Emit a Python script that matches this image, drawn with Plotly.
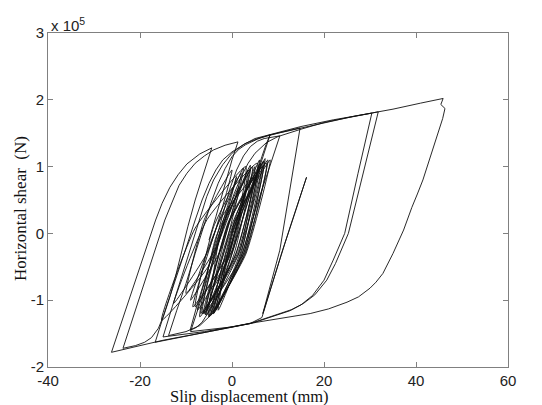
import plotly.graph_objects as go

# ---- data (x: slip displacement in mm, y: horizontal shear in units of 1e5 N) ----
# dense small cycles around the origin
dense_x = [0, 3.0, 0.2, -4.0, -0.4, 5.0, 0.8, -5.5, -0.7, 6.5, 1.3, -6.5,
           -2.3, 4.0, -0.8, -8.0, -4.0, 2.0, -2.4, -9.0, -2.4, 7.5, 2.7, -4.5,
           0.6, 8.3, 3.0, -5.0, -2.6, 1.0, -3.4, -10.0, -6.0, 0.0, -5.1, -12.7,
           -5.4, 5.5, 2.1, -3.0, 0.6, 6.0, 0.8, -7.0, -3.6, 1.5, -5.2, -15.3,
           -8.0, 3.0, -0.6, -6.0, -0.8, 7.0, 2.6, -4.0]
dense_y = [0, 0.60, -0.24, -0.80, 0.19, 0.85, -0.32, -1.10, 0.16, 1.00, -0.32, -1.20,
           0.09, 0.95, -0.28, -1.10, 0.10, 0.90, -0.24, -1.00, 0.23, 1.05, -0.31, -1.22,
           0.17, 1.10, -0.31, -1.25, 0.01, 0.85, -0.20, -0.90, 0.21, 0.95, -0.25, -1.05,
           0.21, 1.05, -0.27, -1.15, 0.20, 1.10, -0.31, -1.25, -0.08, 0.70, -0.50, -1.30,
           0.08, 1.00, -0.32, -1.20, 0.17, 1.08, -0.29, -1.20]

# second group of dense narrow cycles
dense2_x = [0.2, 5.0, 1.8, -5.5, -0.5, 6.2, 2.2, -3.5, 1.0, 7.2, 2.5, -6.2,
            -1.5, 3.5, 0.0, -7.5, -2.5, 4.5, 0.5, -5.0, 0.5, 6.8, 2.5, -4.2,
            0.8, 5.8, 1.2, -6.8, -1.8, 4.0, -0.5, -8.5, -3.2, 2.5, -1.5, -5.8,
            0.2, 7.8, 3.0, -4.0]
dense2_y = [0.00, 1.00, -0.25, -1.22, 0.05, 1.05, -0.22, -1.15, 0.10, 1.12, -0.30, -1.20,
            0.00, 0.95, -0.25, -1.15, 0.05, 1.00, -0.30, -1.25, 0.10, 1.08, -0.25, -1.18,
            0.05, 0.95, -0.30, -1.20, 0.10, 1.02, -0.28, -1.10, 0.12, 0.98, -0.22, -1.22,
            0.12, 1.10, -0.28, -1.20]

# medium cycles reaching the upper / lower envelopes
medium_x = [-4.0, -1.5, 0.5, 2.5, 4.0, 5.3, 6.5, 7.4, 8.3,
            6.5, 4.0, 2.0, 0.0, -2.0, -4.0, -5.3, -6.5, -7.8, -9.1,
            -7.5, -5.5, -3.7, -2.0, -0.5, 1.0, 2.5, 4.0, 5.5, 7.0, 10.4,
            8.2, 6.0, 4.0, 2.0, -0.5, -3.0, -5.0, -7.0, -10.0, -13.8,
            -12.0, -10.0, -8.0, -6.0, -4.5, -3.0, -1.5, 0.0, 1.5, 3.0, 5.5, 8.0, 11.0, 14.8,
            10.4, 8.5, 6.7,
            11.5, 16.2, 11.0, 6.5, 3.9,
            -5.0, -10.0, -16.7,
            -14.5, -12.0, -10.0, -8.0, -6.5, -5.0, -3.5, -2.0, 0.0, 3.0, 6.0, 10.0, 15.0, 20.0, 25.0, 31.8,
            28.5, 25.3, 22.5, 20.6, 18.0, 15.5, 13.0, 10.4, 3.9, -6.0, -15.0,
            -13.0, -11.0, -9.0, -7.0, -5.5, -4.0, -2.0, 0.0, 2.5, 5.0, 10.0, 15.0, 22.0, 30.4,
            27.4, 24.5, 22.0, 20.0, 17.5, 15.0, 12.5, 10.0, 5.0, 0.0, -9.0]
medium_y = [-1.20, -0.65, -0.20, 0.25, 0.60, 0.90, 1.15, 1.33, 1.48,
            1.10, 0.60, 0.15, -0.30, -0.70, -1.00, -1.20, -1.33, -1.41, -1.45,
            -1.05, -0.60, -0.15, 0.30, 0.66, 0.95, 1.16, 1.30, 1.38, 1.42, 1.46,
            1.00, 0.55, 0.10, -0.35, -0.75, -1.05, -1.25, -1.38, -1.47, -1.53,
            -1.15, -0.75, -0.30, 0.15, 0.47, 0.75, 0.97, 1.15, 1.26, 1.33, 1.41, 1.47, 1.52, 1.58,
            -0.25, -0.75, -1.20,
            -0.15, 0.84, -0.25, -1.26, -1.35,
            -1.47, -1.54, -1.63,
            -1.15, -0.65, -0.22, 0.20, 0.50, 0.75, 0.95, 1.10, 1.22, 1.35, 1.43, 1.50, 1.58, 1.66, 1.73, 1.82,
            0.90, 0.00, -0.45, -0.70, -0.92, -1.05, -1.14, -1.20, -1.35, -1.47, -1.55,
            -1.10, -0.65, -0.20, 0.25, 0.55, 0.80, 1.03, 1.20, 1.33, 1.42, 1.51, 1.60, 1.70, 1.80,
            0.90, 0.00, -0.40, -0.70, -0.93, -1.07, -1.16, -1.22, -1.33, -1.40, -1.47]

# largest cycle and final cycles
large_x = [-9.0, -7.0, -5.0, -3.0, -1.0, 0.5, 2.0, 3.5, 5.0, 7.5, 10.0, 15.0, 20.0, 27.0, 35.0, 41.0,
           45.9, 45.4, 46.3, 45.8,
           44.8, 43.7, 42.6, 41.5, 40.3, 39.1, 37.3, 35.0, 32.8, 31.3, 30.0, 27.5, 25.0, 21.0, 17.0,
           11.0, 5.4, -5.0, -15.0, -20.0, -26.2,
           -16.6, -15.2, -13.5, -11.7, -9.8, -7.0, -4.4,
           -6.2, -8.0, -9.6, -11.0, -12.3, -13.5, -14.8, -16.0, -17.5, -19.0, -21.0, -23.7,
           -14.6, -13.0, -11.5, -9.8, -8.0, -6.0, -4.0, -1.5, 1.3,
           0.0, -1.0, -2.0, -3.5, -5.0]
large_y = [-1.47, -1.05, -0.60, -0.13, 0.30, 0.60, 0.85, 1.05, 1.20, 1.36, 1.45, 1.56, 1.66, 1.76, 1.86, 1.95,
           2.02, 1.93, 1.87, 1.72,
           1.50, 1.29, 1.05, 0.80, 0.59, 0.39, 0.05, -0.30, -0.60, -0.73, -0.82, -0.95, -1.03, -1.13, -1.20,
           -1.27, -1.33, -1.47, -1.60, -1.68, -1.78,
           0.20, 0.45, 0.69, 0.88, 1.04, 1.19, 1.28,
           0.90, 0.50, 0.10, -0.30, -0.65, -0.95, -1.22, -1.42, -1.56, -1.63, -1.68, -1.72,
           0.20, 0.47, 0.72, 0.90, 1.05, 1.16, 1.25, 1.32, 1.37,
           1.10, 0.85, 0.60, 0.25, -0.10]

x_ticks = [-40, -20, 0, 20, 40, 60]
y_ticks = [-2, -1, 0, 1, 2, 3]

line_style = dict(color="#111111", width=0.9)

fig = go.Figure()
fig.add_trace(go.Scatter(x=dense_x + dense2_x, y=dense_y + dense2_y, mode="lines",
                         line=dict(shape="spline", smoothing=0.5, **line_style),
                         showlegend=False, hoverinfo="skip"))
fig.add_trace(go.Scatter(x=medium_x + large_x, y=medium_y + large_y, mode="lines",
                         line=line_style, showlegend=False, hoverinfo="skip"))

axis_common = dict(showgrid=False, zeroline=False, showline=True, mirror="ticks",
                   linecolor="#808080", linewidth=1, ticks="inside", ticklen=5,
                   tickcolor="#808080", automargin=False,
                   tickfont=dict(family="Liberation Sans, Arial", size=15, color="#222222"))

# page body has an 8px margin, so the figure is sized/margined to land the plot box
# at x 48..508, y 33..367 of the 542x405 window
fig.update_layout(
    width=534, height=397,
    margin=dict(l=40, r=34, t=25, b=38),
    paper_bgcolor="white", plot_bgcolor="white",
    xaxis=dict(range=[-40, 60], tickvals=x_ticks, ticktext=[str(v) for v in x_ticks], **axis_common),
    yaxis=dict(range=[-2, 3], tickvals=y_ticks, ticktext=[str(v) for v in y_ticks], **axis_common),
    annotations=[
        dict(text="x 10<sup>5</sup>", xref="paper", yref="paper", x=0.0, y=1.0,
             xanchor="left", yanchor="bottom", showarrow=False, xshift=1, yshift=-3,
             font=dict(family="Liberation Sans, Arial", size=15, color="#222222")),
        dict(text="Slip displacement (mm)", xref="paper", yref="paper", x=0.439, y=-0.087,
             xanchor="center", yanchor="middle", showarrow=False, borderpad=0,
             font=dict(family="Liberation Serif, Times New Roman", size=16.5, color="#111111")),
        dict(text="Horizontal shear  (N)", xref="paper", yref="paper", x=-0.061, y=0.476,
             xanchor="center", yanchor="middle", showarrow=False, textangle=-90,
             font=dict(family="Liberation Serif, Times New Roman", size=17, color="#111111")),
    ],
)

fig.write_html("out.html")
